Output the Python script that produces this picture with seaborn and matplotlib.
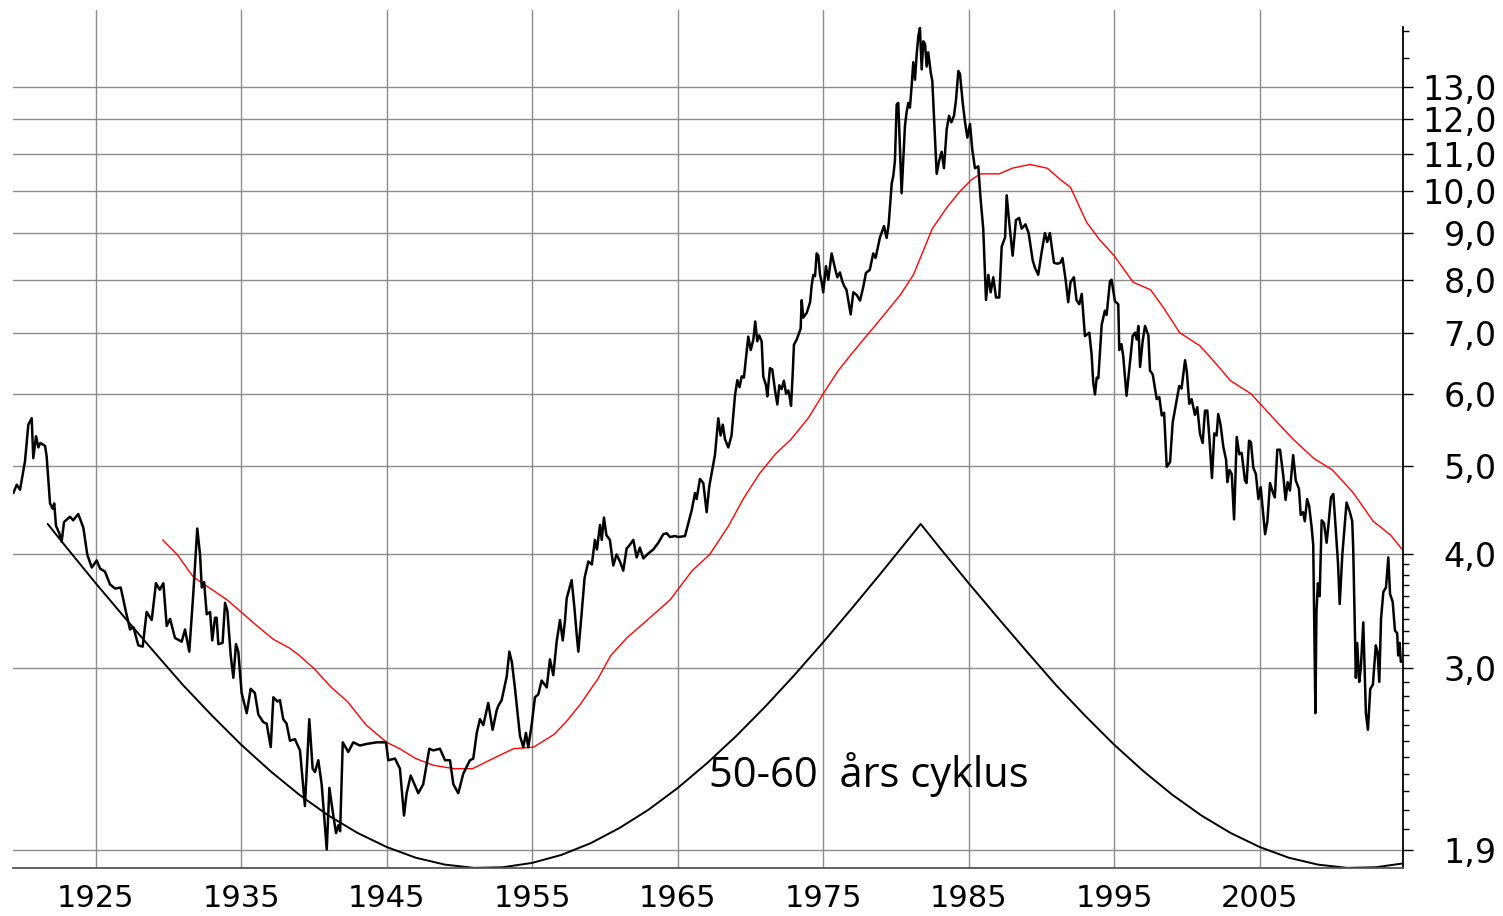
import seaborn as sns
import matplotlib.pyplot as plt
from matplotlib.ticker import FixedLocator, FuncFormatter, NullFormatter

# black line: yield (year, percent)
yield_years = [
    1919.34, 1919.57, 1919.80, 1920.14, 1920.37, 1920.60, 1920.71, 1920.90, 1921.06, 1921.20,
    1921.52, 1921.63, 1921.86, 1922.04, 1922.15, 1922.27, 1922.50, 1922.66, 1922.82, 1923.23,
    1923.45, 1923.80, 1924.15, 1924.42, 1924.73, 1925.07, 1925.30, 1925.64, 1925.98, 1926.33,
    1926.72, 1927.08, 1927.36, 1927.59, 1927.93, 1928.23, 1928.50, 1928.85, 1929.14, 1929.40,
    1929.65, 1929.88, 1930.11, 1930.45, 1930.91, 1931.14, 1931.43, 1931.71, 1931.98, 1932.17,
    1932.29, 1932.45, 1932.63, 1932.86, 1933.01, 1933.20, 1933.31, 1933.43, 1933.72, 1933.89,
    1934.05, 1934.28, 1934.46, 1934.64, 1934.80, 1935.03, 1935.38, 1935.65, 1935.94, 1936.18,
    1936.52, 1936.75, 1937.03, 1937.21, 1937.49, 1937.66, 1937.89, 1938.12, 1938.35, 1938.69,
    1939.04, 1939.38, 1939.68, 1939.91, 1940.07, 1940.30, 1940.53, 1940.88, 1941.06, 1941.33,
    1941.52, 1941.68, 1941.80, 1941.98, 1942.36, 1942.70, 1943.16, 1943.62, 1944.31, 1944.95,
    1945.11, 1945.57, 1945.91, 1946.19, 1946.37, 1946.65, 1947.17, 1947.51, 1947.93, 1948.20,
    1948.66, 1949.01, 1949.35, 1949.58, 1949.92, 1950.26, 1950.72, 1950.95, 1951.19, 1951.41,
    1951.64, 1951.98, 1952.28, 1952.56, 1952.67, 1952.90, 1953.25, 1953.43, 1953.60, 1953.82,
    1954.16, 1954.39, 1954.57, 1954.73, 1954.96, 1955.19, 1955.42, 1955.65, 1956.00, 1956.22,
    1956.45, 1956.68, 1956.91, 1957.10, 1957.25, 1957.37, 1957.71, 1957.90, 1958.05, 1958.17,
    1958.40, 1958.60, 1958.86, 1959.10, 1959.31, 1959.45, 1959.66, 1959.78, 1959.93, 1960.10,
    1960.34, 1960.57, 1960.80, 1961.03, 1961.26, 1961.49, 1961.72, 1961.95, 1962.18, 1962.40,
    1962.64, 1962.98, 1963.32, 1963.67, 1964.01, 1964.24, 1964.47, 1964.81, 1965.04, 1965.50,
    1965.73, 1965.96, 1966.19, 1966.30, 1966.53, 1966.76, 1966.99, 1967.17, 1967.41, 1967.56,
    1967.79, 1967.95, 1968.10, 1968.25, 1968.48, 1968.70, 1968.94, 1969.10, 1969.25, 1969.40,
    1969.55, 1969.69, 1969.85, 1970.02, 1970.20, 1970.33, 1970.47, 1970.60, 1970.77, 1970.88,
    1971.07, 1971.16, 1971.34, 1971.50, 1971.69, 1971.85, 1971.98, 1972.14, 1972.30, 1972.45,
    1972.60, 1972.70, 1972.79, 1972.90, 1972.99, 1973.18, 1973.45, 1973.52, 1973.63, 1973.87,
    1974.10, 1974.21, 1974.32, 1974.44, 1974.55, 1974.67, 1974.78, 1974.90, 1975.00, 1975.19,
    1975.35, 1975.58, 1975.80, 1975.97, 1976.15, 1976.30, 1976.43, 1976.60, 1976.89, 1977.07,
    1977.30, 1977.53, 1977.75, 1977.94, 1978.20, 1978.44, 1978.60, 1978.90, 1979.18, 1979.36,
    1979.50, 1979.71, 1979.82, 1979.93, 1980.05, 1980.16, 1980.28, 1980.39, 1980.50, 1980.62,
    1980.73, 1980.85, 1980.96, 1981.08, 1981.19, 1981.31, 1981.42, 1981.54, 1981.65, 1981.77,
    1981.88, 1982.00, 1982.11, 1982.22, 1982.39, 1982.50, 1982.80, 1982.97, 1983.14, 1983.30,
    1983.49, 1983.65, 1983.81, 1983.99, 1984.13, 1984.29, 1984.40, 1984.59, 1984.75, 1984.91,
    1985.09, 1985.25, 1985.43, 1985.66, 1985.82, 1986.00, 1986.19, 1986.35, 1986.51, 1986.69,
    1986.88, 1987.10, 1987.27, 1987.50, 1987.61, 1987.80, 1988.02, 1988.25, 1988.47, 1988.64,
    1988.90, 1989.12, 1989.40, 1989.55, 1989.78, 1990.00, 1990.24, 1990.40, 1990.58, 1990.86,
    1991.10, 1991.30, 1991.45, 1991.67, 1991.84, 1992.00, 1992.23, 1992.41, 1992.60, 1992.77,
    1992.99, 1993.29, 1993.45, 1993.56, 1993.68, 1993.80, 1993.91, 1994.14, 1994.36, 1994.48,
    1994.71, 1994.82, 1995.05, 1995.28, 1995.35, 1995.50, 1995.62, 1995.85, 1996.08, 1996.27,
    1996.43, 1996.55, 1996.66, 1996.78, 1996.96, 1997.12, 1997.35, 1997.46, 1997.65, 1997.92,
    1998.10, 1998.27, 1998.43, 1998.61, 1998.84, 1999.02, 1999.25, 1999.47, 1999.63, 1999.87,
    1999.99, 2000.16, 2000.32, 2000.55, 2000.71, 2000.90, 2001.08, 2001.24, 2001.40, 2001.54,
    2001.72, 2001.88, 2002.04, 2002.15, 2002.31, 2002.50, 2002.69, 2002.78, 2002.92, 2003.08,
    2003.24, 2003.42, 2003.60, 2003.76, 2003.99, 2004.10, 2004.27, 2004.40, 2004.56, 2004.74,
    2004.91, 2005.07, 2005.37, 2005.53, 2005.71, 2005.90, 2006.04, 2006.21, 2006.40, 2006.62,
    2006.78, 2006.92, 2007.08, 2007.30, 2007.48, 2007.70, 2007.82, 2007.98, 2008.10, 2008.26,
    2008.40, 2008.56, 2008.68, 2008.83, 2008.90, 2009.00, 2009.12, 2009.26, 2009.42, 2009.60,
    2009.72, 2009.90, 2010.06, 2010.17, 2010.38, 2010.50, 2010.68, 2010.97, 2011.20, 2011.36,
    2011.43, 2011.61, 2011.70, 2011.84, 2011.95, 2012.12, 2012.30, 2012.44, 2012.60, 2012.78,
    2012.98, 2013.10, 2013.22, 2013.34, 2013.50, 2013.68, 2013.84, 2013.96, 2014.14, 2014.30,
    2014.45, 2014.52, 2014.62, 2014.70,
]
yield_values = [
    4.67, 4.77, 4.71, 5.06, 5.55, 5.64, 5.10, 5.39, 5.24, 5.30,
    5.26, 5.12, 4.55, 4.49, 4.55, 4.30, 4.22, 4.13, 4.34, 4.40,
    4.36, 4.43, 4.28, 4.00, 3.87, 3.94, 3.86, 3.83, 3.71, 3.67,
    3.68, 3.46, 3.31, 3.33, 3.18, 3.17, 3.46, 3.39, 3.72, 3.66,
    3.72, 3.34, 3.40, 3.24, 3.21, 3.31, 3.13, 3.63, 4.27, 4.00,
    3.68, 3.73, 3.44, 3.46, 3.22, 3.41, 3.41, 3.19, 3.20, 3.54,
    3.47, 3.10, 2.93, 3.19, 3.13, 2.82, 2.68, 2.85, 2.82, 2.67,
    2.62, 2.61, 2.46, 2.79, 2.76, 2.77, 2.64, 2.61, 2.50, 2.51,
    2.44, 2.12, 2.64, 2.33, 2.31, 2.38, 2.24, 1.90, 2.22, 2.07,
    1.98, 2.02, 1.99, 2.49, 2.43, 2.49, 2.47, 2.48, 2.49, 2.49,
    2.38, 2.39, 2.33, 2.07, 2.19, 2.29, 2.19, 2.24, 2.45, 2.44,
    2.45, 2.38, 2.38, 2.24, 2.19, 2.30, 2.38, 2.39, 2.55, 2.64,
    2.60, 2.75, 2.57, 2.70, 2.73, 2.77, 2.94, 3.13, 3.05, 2.85,
    2.53, 2.46, 2.55, 2.46, 2.60, 2.79, 2.81, 2.91, 2.86, 3.07,
    2.95, 3.21, 3.39, 3.22, 3.38, 3.58, 3.75, 3.50, 3.28, 3.13,
    3.45, 3.77, 3.93, 3.90, 4.15, 4.05, 4.31, 4.15, 4.39, 4.20,
    4.15, 3.89, 4.00, 3.93, 3.84, 4.06, 4.10, 4.15, 3.97, 4.07,
    3.96, 4.01, 4.05, 4.12, 4.21, 4.22, 4.18, 4.19, 4.18, 4.19,
    4.33, 4.47, 4.67, 4.60, 4.84, 4.79, 4.45, 4.75, 4.99, 5.14,
    5.64, 5.40, 5.55, 5.35, 5.24, 5.40, 5.98, 6.21, 6.10, 6.27,
    6.25, 6.56, 6.93, 6.70, 6.88, 7.20, 6.85, 6.95, 6.85, 6.27,
    6.13, 5.96, 6.40, 6.38, 6.05, 5.84, 6.13, 6.07, 6.20, 6.00,
    6.05, 5.95, 5.82, 6.29, 6.79, 6.88, 7.07, 7.60, 7.27, 7.36,
    7.56, 7.89, 8.10, 8.07, 8.55, 8.50, 8.10, 7.95, 7.75, 8.28,
    8.00, 8.55, 8.25, 8.05, 8.15, 7.98, 7.88, 7.80, 7.33, 7.75,
    7.70, 7.59, 7.85, 8.14, 8.20, 8.55, 8.45, 8.90, 9.16, 8.89,
    9.20, 10.2, 10.4, 10.8, 12.45, 12.5, 11.1, 9.95, 10.8, 11.8,
    12.2, 12.5, 12.35, 13.05, 13.85, 13.25, 14.1, 14.8, 15.1, 13.6,
    14.6, 14.5, 13.7, 14.2, 13.5, 13.2, 10.45, 10.8, 11.05, 10.6,
    11.7, 12.1, 11.9, 12.1, 12.6, 13.55, 13.45, 12.5, 11.9, 11.45,
    11.85, 11.1, 10.6, 10.65, 9.8, 9.1, 7.6, 8.1, 7.75, 8.05,
    7.65, 7.65, 8.7, 8.9, 9.9, 9.2, 8.5, 9.3, 9.35, 9.1,
    9.2, 9.0, 8.4, 8.25, 8.1, 8.55, 9.0, 8.8, 9.0, 8.35,
    8.33, 8.35, 8.45, 7.98, 7.56, 7.95, 8.05, 7.60, 7.52, 7.72,
    6.94, 7.00, 6.62, 6.17, 5.99, 6.25, 6.24, 7.14, 7.40, 7.32,
    7.97, 8.00, 7.58, 7.52, 6.70, 6.80, 6.60, 5.97, 6.48, 6.94,
    7.00, 6.88, 7.12, 6.42, 6.86, 7.12, 6.95, 6.36, 6.30, 5.92,
    5.95, 5.68, 5.72, 4.99, 5.05, 5.58, 5.85, 6.12, 6.08, 6.53,
    6.35, 5.85, 5.92, 5.69, 5.80, 5.42, 5.30, 5.75, 5.75, 5.37,
    4.85, 5.43, 5.40, 5.70, 5.55, 5.25, 5.08, 4.80, 4.95, 4.90,
    4.37, 5.38, 5.15, 5.17, 4.82, 4.79, 5.33, 5.31, 4.98, 4.90,
    4.60, 4.74, 4.21, 4.35, 4.79, 4.68, 4.62, 5.21, 5.21, 4.88,
    4.59, 4.80, 4.70, 5.14, 4.82, 4.72, 4.42, 4.45, 4.35, 4.60,
    4.52, 4.30, 4.10, 2.68, 3.45, 3.72, 3.60, 4.36, 4.33, 4.12,
    4.30, 4.62, 4.66, 4.40, 3.92, 3.53, 4.00, 4.56, 4.45, 4.35,
    4.05, 2.93, 3.20, 2.90, 3.00, 3.37, 2.68, 2.57, 2.85, 2.88,
    3.18, 3.13, 2.90, 3.40, 3.64, 3.68, 3.97, 3.62, 3.55, 3.30,
    3.28, 3.10, 3.20, 3.05,
]

# red line: long moving average
ma_years = [1929.6, 1930.6, 1931.7, 1933.0, 1934.0, 1934.9, 1936.0, 1937.2, 1938.3, 1939.0,
            1940.0, 1941.2, 1942.3, 1943.6, 1945.0, 1945.9, 1947.0, 1948.2, 1949.6, 1950.9,
            1952.3, 1953.7, 1955.1, 1956.5, 1957.4, 1958.3, 1959.5, 1960.4, 1961.5, 1963.0,
            1964.5, 1965.0, 1966.0, 1967.2, 1968.5, 1969.5, 1970.6, 1971.7, 1972.8, 1974.0,
            1975.0, 1976.0, 1977.0, 1978.0, 1978.9, 1980.3, 1981.2, 1982.5, 1983.5, 1984.4,
            1985.2, 1985.8, 1987.1, 1988.0, 1989.2, 1990.4, 1991.3, 1992.0, 1993.1, 1994.0,
            1995.0, 1996.3, 1997.5, 1998.4, 1999.5, 2000.9, 2001.9, 2003.0, 2004.4, 2005.9,
            2007.3, 2008.7, 2010.0, 2011.4, 2012.8, 2014.0, 2014.8]
ma_values = [4.15, 4.00, 3.78, 3.66, 3.57, 3.47, 3.35, 3.23, 3.16, 3.10,
             3.00, 2.86, 2.76, 2.60, 2.49, 2.45, 2.39, 2.35, 2.33, 2.33,
             2.39, 2.45, 2.46, 2.54, 2.63, 2.74, 2.92, 3.10, 3.24, 3.40,
             3.57, 3.66, 3.84, 4.00, 4.30, 4.60, 4.90, 5.15, 5.35, 5.65,
             6.00, 6.35, 6.65, 6.95, 7.23, 7.70, 8.10, 9.10, 9.60, 10.00,
             10.30, 10.45, 10.45, 10.60, 10.70, 10.60, 10.30, 10.10, 9.25, 8.85,
             8.50, 7.95, 7.80, 7.45, 7.00, 6.77, 6.50, 6.20, 6.00, 5.65,
             5.35, 5.10, 4.95, 4.68, 4.35, 4.20, 4.05]

# smooth black curve: the 50-60 year cycle
cycle_years = [1921.7, 1923, 1925, 1927, 1929, 1931, 1933, 1935, 1937, 1939,
               1941, 1943, 1945, 1947, 1949, 1951, 1953, 1955, 1957, 1959,
               1961, 1963, 1965, 1967, 1969, 1971, 1973, 1975, 1977, 1979,
               1981, 1981.7, 1983, 1985, 1987, 1989, 1991, 1993, 1995, 1997,
               1999, 2001, 2003, 2005, 2007, 2009, 2011, 2013, 2014.9]
cycle_values = [4.32, 4.07, 3.72, 3.41, 3.13, 2.877, 2.663, 2.475, 2.316, 2.181,
                2.070, 1.981, 1.912, 1.861, 1.829, 1.814, 1.817, 1.837, 1.874, 1.930,
                2.006, 2.101, 2.219, 2.361, 2.528, 2.723, 2.948, 3.205, 3.496, 3.821,
                4.184, 4.32, 4.07, 3.72, 3.41, 3.13, 2.877, 2.663, 2.475, 2.316,
                2.181, 2.070, 1.981, 1.912, 1.861, 1.829, 1.814, 1.817, 1.835]

y_ticks = [1.9, 3, 4, 5, 6, 7, 8, 9, 10, 11, 12, 13]
y_minor = [2.0, 2.1, 2.2, 2.3, 2.4, 2.5, 2.6, 2.7, 2.8, 2.9,
           3.1, 3.2, 3.3, 3.4, 3.5, 3.6, 3.7, 3.8, 3.9, 14, 15]
x_labels = [1925, 1935, 1945, 1955, 1965, 1975, 1985, 1995, 2005]

sns.set_style("white")
plt.rcParams['font.family'] = ['DejaVu Sans']
plt.rcParams['text.color'] = 'black'

fig = plt.figure(figsize=(15.03, 9.16), dpi=100)
ax = fig.add_axes([0.00865, 0.0524, 0.92501, 0.93668])

grid_col = '#8c8c8c'
for v in y_ticks:
    ax.axhline(v, color=grid_col, lw=1.0, zorder=0.5)
for yr in x_labels:
    ax.axvline(yr, color=grid_col, lw=1.0, zorder=0.5)

sns.lineplot(x=cycle_years, y=cycle_values, color='black', lw=1.4, ax=ax, estimator=None)
sns.lineplot(x=ma_years, y=ma_values, color='red', lw=1.0, ax=ax, estimator=None)
sns.lineplot(x=yield_years, y=yield_values, color='black', lw=1.8, ax=ax, estimator=None)

ax.set_yscale('log')
ax.set_xlim(1919.316, 2014.87)
ax.set_ylim(1.8134, 15.80)
ax.set_xlabel('')
ax.set_ylabel('')

ax.text(1967.15, 2.226, "50-60  års cyklus", fontsize=30, family='Open Sans',
        color='black', ha='left', va='baseline')

# right hand log axis with comma decimals
ax.yaxis.tick_right()
ax.yaxis.set_major_locator(FixedLocator(y_ticks))
ax.yaxis.set_minor_locator(FixedLocator(y_minor))
ax.yaxis.set_major_formatter(FuncFormatter(lambda v, p: f"{v:.1f}".replace('.', ',')))
ax.yaxis.set_minor_formatter(NullFormatter())
ax.tick_params(axis='y', which='major', length=7.2, width=1.0, color='black',
               labelcolor='black', labelsize=24, pad=60)
ax.tick_params(axis='y', which='minor', length=4.3, width=1.0, color='black')

# year axis: long ticks every 5 years, short every year
ax.xaxis.set_major_locator(FixedLocator(list(range(1920, 2015, 5))))
ax.xaxis.set_minor_locator(FixedLocator(list(range(1920, 2015))))
ax.xaxis.set_major_formatter(FuncFormatter(lambda v, p: str(int(round(v))) if int(round(v)) in x_labels else ''))
ax.tick_params(axis='x', which='major', length=10, width=1.0, color='#555555',
               labelcolor='black', labelsize=22, pad=1.5)
ax.tick_params(axis='x', which='minor', length=5, width=1.0, color='#555555')

for side in ['left', 'top']:
    ax.spines[side].set_visible(False)
ax.spines['bottom'].set_color('#555555')
ax.spines['bottom'].set_linewidth(1.3)
ax.spines['right'].set_color('black')
ax.spines['right'].set_linewidth(1.3)
ax.spines['right'].set_bounds(1.8134, 15.12)

fig.canvas.draw()
for lab in ax.get_yticklabels():
    lab.set_horizontalalignment('right')

fig.savefig('out.png', dpi=100)
